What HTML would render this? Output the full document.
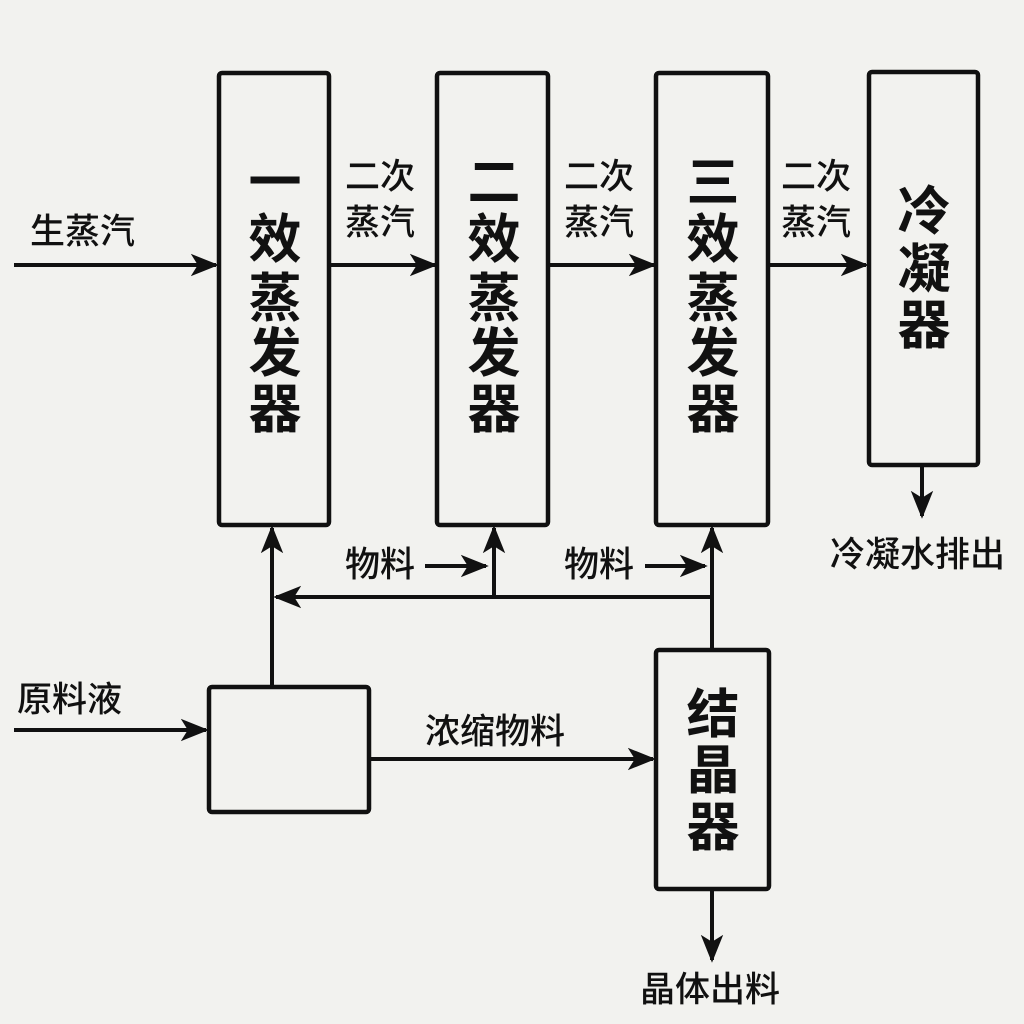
<!DOCTYPE html>
<html><head><meta charset="utf-8"><style>
html,body{margin:0;padding:0;background:#f2f2ef;}
svg{display:block}
text{font-family:"Liberation Sans","Noto Sans CJK SC",sans-serif;fill:#111;}
.b{font-size:53px;font-weight:bold;text-anchor:middle;dominant-baseline:central}
.s{font-size:35px;font-weight:500;dominant-baseline:central}
</style></head><body>
<svg width="1024" height="1024" viewBox="0 0 1024 1024">
<defs>
<marker id="m" viewBox="0 0 10 10" refX="9" refY="5" markerWidth="28" markerHeight="28" orient="auto" markerUnits="userSpaceOnUse"><path d="M0,1 L10,5 L0,9 L2.5,5 Z" fill="#111"/></marker></defs>
<rect width="1024" height="1024" fill="#f2f2ef"/>
<g fill="none" stroke="#111" stroke-width="4.5">
<rect x="219" y="73" width="110" height="452" rx="3"/>
<rect x="437" y="73" width="111" height="452" rx="3"/>
<rect x="656" y="73" width="112" height="452" rx="3"/>
<rect x="869" y="72" width="109" height="393" rx="3"/>
<rect x="209" y="687" width="160" height="125" rx="3"/>
<rect x="656" y="650" width="113" height="239" rx="3"/>
</g>
<g stroke="#111" stroke-width="4" fill="none" marker-end="url(#m)">
<line x1="14" y1="265" x2="216" y2="265"/>
<line x1="329" y1="265" x2="435" y2="265"/>
<line x1="548" y1="265" x2="654" y2="265"/>
<line x1="768" y1="265" x2="866" y2="265"/>
<line x1="922" y1="465" x2="922" y2="516"/>
<line x1="272" y1="686" x2="272" y2="528"/>
<line x1="712" y1="597" x2="276" y2="597"/>
<line x1="494" y1="597" x2="494" y2="528"/>
<line x1="712" y1="649" x2="712" y2="528"/>
<line x1="425" y1="566" x2="486" y2="566"/>
<line x1="645" y1="566" x2="705" y2="566"/>
<line x1="14" y1="730" x2="206" y2="730"/>
<line x1="369" y1="759" x2="653" y2="759"/>
<line x1="712" y1="889" x2="712" y2="960"/>
</g>
<g>
<text class="b" x="275" y="183">一</text><text class="b" x="275" y="240">效</text><text class="b" x="275" y="299">蒸</text><text class="b" x="275" y="354">发</text><text class="b" x="275" y="410">器</text>
<text class="b" x="494" y="183">二</text><text class="b" x="494" y="240">效</text><text class="b" x="494" y="299">蒸</text><text class="b" x="494" y="354">发</text><text class="b" x="494" y="410">器</text>
<text class="b" x="713" y="183">三</text><text class="b" x="713" y="240">效</text><text class="b" x="713" y="299">蒸</text><text class="b" x="713" y="354">发</text><text class="b" x="713" y="410">器</text>
<text class="b" x="924" y="212">冷</text><text class="b" x="924" y="270">凝</text><text class="b" x="924" y="326">器</text>
<text class="b" x="713" y="715">结</text><text class="b" x="713" y="771">晶</text><text class="b" x="713" y="828">器</text>
</g>
<text class="s" x="345" y="177">二次</text><text class="s" x="345" y="223">蒸汽</text>
<text class="s" x="564" y="177">二次</text><text class="s" x="564" y="223">蒸汽</text>
<text class="s" x="781" y="177">二次</text><text class="s" x="781" y="223">蒸汽</text>
<text class="s" x="30" y="232">生蒸汽</text>
<text class="s" x="830" y="555">冷凝水排出</text>
<text class="s" x="345" y="565">物料</text>
<text class="s" x="564" y="565">物料</text>
<text class="s" x="17" y="700">原料液</text>
<text class="s" x="425" y="732">浓缩物料</text>
<text class="s" x="640" y="990">晶体出料</text>
</svg>
</body></html>
